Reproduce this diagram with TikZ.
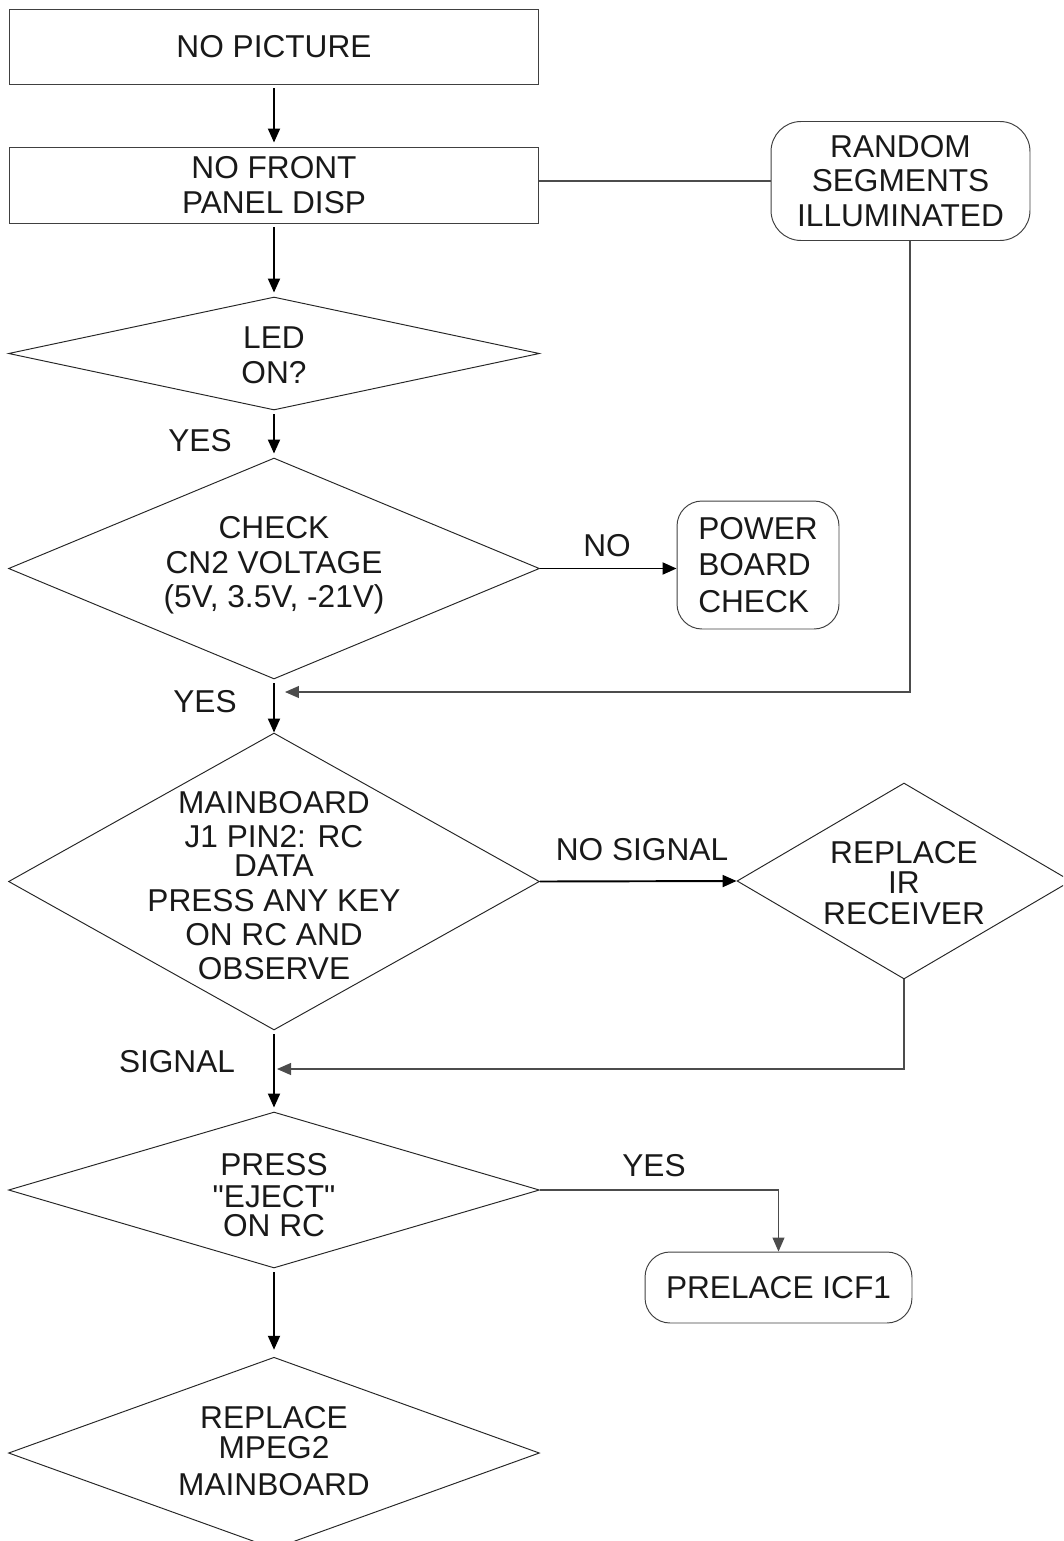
\documentclass[tikz,border=0pt]{standalone}
\usepackage{fontspec}
\setmainfont{Liberation Sans}[Ligatures=TeXOff]
\usetikzlibrary{shapes.geometric,arrows.meta}

% text block inside a decision diamond (kept out of the shape size)
\newcommand{\dlines}[2][6pt]{\smash{\raisebox{-#1}{\begin{tabular}{@{}c@{}}#2\end{tabular}}}}

\begin{document}
\begin{tikzpicture}[
  x=0.02cm, y=-0.02cm,
  every node/.style={font=\fontsize{18}{19.5}\selectfont, inner sep=0pt, text=black!90},
  box/.style={rectangle, draw=black!75, line width=0.55pt, minimum width=10.6cm, align=center},
  rbox/.style={rectangle, rounded corners=0.6cm, draw=black!75, line width=0.55pt, align=center},
  test/.style={diamond, draw=black!85, line width=0.55pt, minimum width=10.62cm},
  flow/.style={line width=1.1pt, shorten <=0.08cm, shorten >=0.08cm,
    -{Triangle[length=0.28cm,width=0.24cm]}},
  link/.style={line width=0.6pt, draw=black!70},
  linkarrow/.style={link, -{Triangle[length=0.28cm,width=0.24cm]}}
]
  \useasboundingbox (0,0) rectangle (1063,1541);
  \clip (0,0) rectangle (1063,1541);

  % main column
  \node[box, minimum height=1.5cm]  (nopic) at (274, 46.5) {NO PICTURE};
  \node[box, minimum height=1.52cm] (front) at (274, 185) {NO FRONT\\PANEL DISP};
  \node[test, minimum height=2.26cm] (led) at (274, 353.5)
    {\dlines[7.4pt]{LED\\[0.5pt] ON?}};
  \node[test, minimum height=3.38cm] (cn2) at (274, 568.5)
    {\dlines[3pt]{CHECK\\CN2 VOLTAGE\\(5V, 3.5V, -21V)}};
  \node[test, minimum height=5.94cm] (rcdata) at (274, 881.5)
    {\dlines[9pt]{MAINBOARD\\J1 PIN2: RC\\[-3pt] DATA\\PRESS ANY KEY\\ON RC AND\\OBSERVE}};
  \node[test, minimum height=3.12cm] (eject) at (274, 1190)
    {\dlines[9.7pt]{PRESS\\[-1.3pt] "EJECT"\\[-3pt] ON RC}};
  \node[test, minimum height=3.76cm] (mpeg) at (274, 1453)
    {\dlines[5.7pt]{REPLACE\\[-2.5pt] MPEG2\\[1.5pt] MAINBOARD}};

  % side branches
  \node[rbox, minimum width=5.18cm, minimum height=2.38cm] (random) at (900.5, 181)
    {RANDOM\\SEGMENTS\\ILLUMINATED};
  \node[rbox, rounded corners=0.5cm, minimum width=3.24cm, minimum height=2.56cm,
    align=left] (power) at (758, 565) {POWER\\[1.2pt] BOARD\\[1.2pt] CHECK};
  \node[test, minimum width=6.68cm, minimum height=3.92cm] (irrx) at (904, 881)
    {\dlines[7.7pt]{REPLACE\\[-2.2pt] IR\\[-2.2pt] RECEIVER}};
  \node[rbox, rounded corners=0.5cm, minimum width=5.34cm, minimum height=1.42cm]
    (icf1) at (778.5, 1287.5) {PRELACE ICF1};

  % branch labels
  \node (yes1)  at (200, 441)  {YES};
  \node (no1)   at (607, 546)  {NO};
  \node (yes2)  at (205, 702)  {YES};
  \node (nosig) at (642, 850)  {NO SIGNAL};
  \node (sig)   at (177, 1062) {SIGNAL};
  \node (yes3)  at (654, 1166) {YES};

  \coordinate (join1) at (274, 692);
  \coordinate (join2) at (274, 1069);

  \draw[flow] (nopic) -- (front);
  \draw[flow] (front) -- (led);
  \draw[flow] (led) -- (cn2);
  \draw[flow, shorten >=0pt] (cn2) -- (rcdata);
  \draw[flow] (rcdata) -- (eject);
  \draw[flow, shorten >=0.14cm] (eject) -- (mpeg);

  \draw[flow, shorten <=0pt, shorten >=0pt] (cn2.east) -- (cn2.east -| power.west);
  \draw[flow, shorten <=0pt, shorten >=0pt] (rcdata.east) -- (irrx.west);

  \draw[link] (random.west) -- (random.west -| front.east);
  \draw[linkarrow, shorten >=0.22cm] ([xshift=0.19cm]random.south) |- (join1);
  \draw[linkarrow, shorten >=0.06cm] (irrx.south) |- (join2);
  \draw[linkarrow] (eject.east) -| (icf1.north);
\end{tikzpicture}
\end{document}
